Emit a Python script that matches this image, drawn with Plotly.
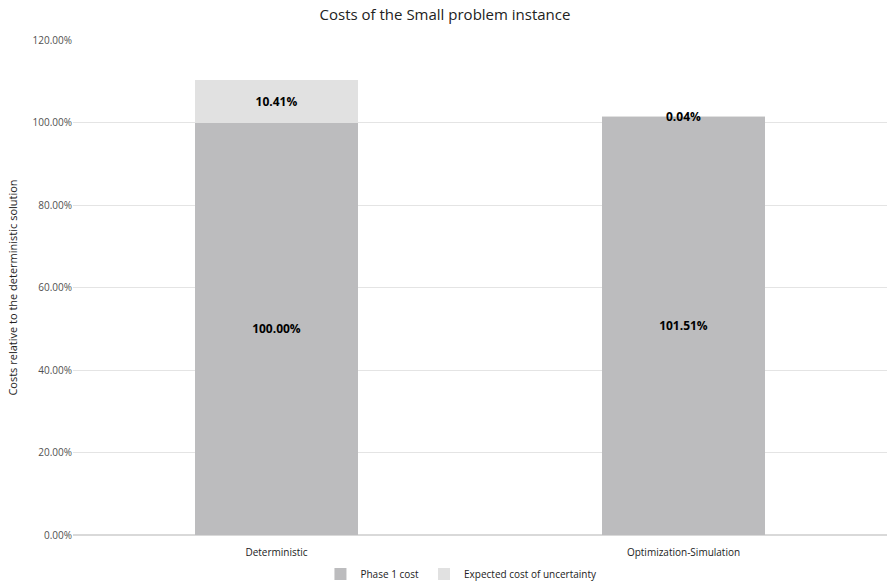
import plotly.graph_objects as go

categories = ["Deterministic", "Optimization-Simulation"]
phase1 = [100.00, 101.51]
uncertainty = [10.41, 0.04]
series_names = ["Phase 1 cost", "Expected cost of uncertainty"]
colors = ["#BCBCBE", "#E1E1E1"]
y_ticks = [0, 20, 40, 60, 80, 100, 120]
y_ticklabels = [f"{v:.2f}%" for v in y_ticks]

font_family = "Open Sans, Liberation Sans, sans-serif"

fig = go.Figure()
for name, vals, col in zip(series_names, [phase1, uncertainty], colors):
    fig.add_trace(go.Bar(
        x=categories, y=vals, name=name, marker=dict(color=col, line=dict(width=0)),
        text=[f"{v:.2f}%" for v in vals], textposition="inside", insidetextanchor="middle",
        constraintext="none", textangle=0, cliponaxis=False,
        textfont=dict(family=font_family, size=12, color="#000000", weight="bold"),
        width=0.4,
    ))

fig.update_layout(
    barmode="stack",
    width=890, height=584,
    margin=dict(l=73, r=3, t=40, b=49, autoexpand=False),
    paper_bgcolor="white", plot_bgcolor="white",
    font=dict(family=font_family, size=10, color="#404040"),
    title=dict(text="Costs of the Small problem instance", x=0.5, xanchor="center",
               y=0.975, yanchor="middle", font=dict(size=15, color="#222222")),
    yaxis=dict(range=[0, 120], tickvals=y_ticks, ticktext=y_ticklabels,
               gridcolor="#E4E4E4", gridwidth=1, zeroline=True, zerolinecolor="#D9D9D9",
               showline=False, ticks="", ticklen=0,
               title=dict(text="Costs relative to the deterministic solution",
                          font=dict(size=11, color="#222222"), standoff=12),
               tickfont=dict(size=10, color="#505050")),
    xaxis=dict(showline=False, ticks="outside", ticklen=8, tickcolor="rgba(0,0,0,0)",
               tickfont=dict(size=10, color="#222222")),
    legend=dict(orientation="h", x=0.304, xanchor="left", y=-0.079, yanchor="middle",
                font=dict(size=10, color="#222222"), traceorder="normal",
                itemwidth=30),
    showlegend=True,
)

fig.write_html("out.html")
